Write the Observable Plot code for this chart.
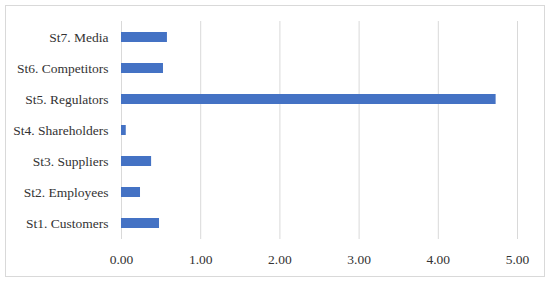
<!DOCTYPE html>
<html>
<head>
<meta charset="utf-8">
<script src="https://cdn.jsdelivr.net/npm/d3@7"></script>
<script src="https://cdn.jsdelivr.net/npm/@observablehq/plot@0.6"></script>
<style>
  html, body { margin: 0; padding: 0; background: #fff; }
  #wrap { position: relative; width: 550px; height: 282px; }
  #border { position: absolute; left: 5px; top: 5px; width: 538px; height: 270px; border: 1px solid #d9d9d9; }
  #chart { position: absolute; left: 0; top: 0; }
  #chart svg text { font-family: 'Liberation Serif', serif; font-size: 13.5px; fill: #333; }
</style>
</head>
<body>
<div id="wrap"><div id="border"></div><div id="chart"></div></div>
<script>
const categories = ["St1. Customers", "St2. Employees", "St3. Suppliers", "St4. Shareholders", "St5. Regulators", "St6. Competitors", "St7. Media"];
const values = [0.48, 0.24, 0.38, 0.06, 4.73, 0.53, 0.58];
const xTicks = [0, 1, 2, 3, 4, 5];

const data = categories.map((c, i) => ({category: c, value: values[i]}));
const order = categories.slice().reverse();

const plot = Plot.plot({
  width: 550,
  height: 282,
  marginLeft: 121,
  marginRight: 33,
  marginTop: 21,
  marginBottom: 43,
  style: {fontFamily: "'Liberation Serif', serif", fontSize: "13.5px", color: "#333", background: "transparent"},
  x: {domain: [0, 5], ticks: xTicks, tickFormat: d => d.toFixed(2), label: null, tickSize: 0, tickPadding: 15},
  y: {domain: order, label: null, paddingInner: 0.68, paddingOuter: 0.34, tickSize: 0, tickPadding: 13},
  marks: [
    Plot.gridX(xTicks, {stroke: "#d9d9d9", strokeOpacity: 1, strokeWidth: 1}),
    Plot.barX(data, {x: "value", y: "category", fill: "#4472C4"})
  ]
});
document.getElementById("chart").appendChild(plot);
</script>
</body>
</html>
